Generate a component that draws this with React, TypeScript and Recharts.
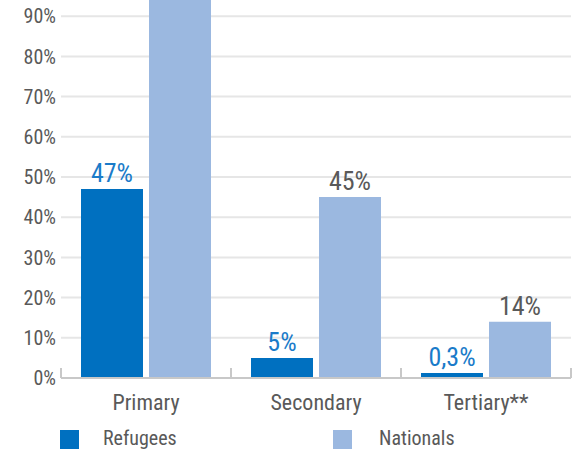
import { Bar, BarChart, CartesianGrid, LabelList, Legend, XAxis, YAxis } from "recharts";

const levels = ["Primary", "Secondary", "Tertiary**"];
const refugees = [47, 5, 0.3];
const nationals = [96, 45, 14];
const yTicks = [0, 10, 20, 30, 40, 50, 60, 70, 80, 90];

const data = levels.map((level, i) => ({ level, refugees: refugees[i], nationals: nationals[i] }));

const FONT = "'Roboto Condensed', 'Liberation Sans Narrow', Roboto, sans-serif";
const GREY = "#595959";
const AXIS = "#c8c8c8";

const pct = (v: number) => `${String(v).replace(".", ",")}%`;

function CategoryTick(props: any) {
  const { x, y, payload, index, visibleTicksCount } = props;
  const half = payload.offset ?? 85;
  const last = index === visibleTicksCount - 1;
  return (
    <g>
      <line x1={x - half} x2={x - half} y1={y - 10} y2={y} stroke={AXIS} strokeWidth={2} />
      {last && <line x1={x + half} x2={x + half} y1={y - 10} y2={y} stroke={AXIS} strokeWidth={2} />}
      <text x={x} y={y + 32} textAnchor="middle" fill={GREY} fontSize={22} fontFamily={FONT}>
        {payload.value}
      </text>
    </g>
  );
}

function LegendBox() {
  const items = [
    { label: "Refugees", color: "#0070c0", left: 60, textLeft: 103 },
    { label: "Nationals", color: "#9bb8e0", left: 333, textLeft: 379 },
  ];
  return (
    <div style={{ position: "relative", width: 587, height: 42 }}>
      {items.map((it) => (
        <div key={it.label}>
          <div style={{ position: "absolute", left: it.left, top: 12, width: 19, height: 19, background: it.color }} />
          <div
            style={{
              position: "absolute",
              left: it.textLeft,
              top: 8,
              fontSize: 20,
              lineHeight: "24px",
              color: GREY,
              fontFamily: FONT,
            }}
          >
            {it.label}
          </div>
        </div>
      ))}
    </div>
  );
}

export default function App() {
  return (
    <div style={{ position: "relative", width: 587, height: 451, overflow: "hidden" }}>
      <style>{`body{margin:0}`}</style>
      <div style={{ position: "absolute", top: -60, left: 0 }}>
        <BarChart
          width={587}
          height={520}
          data={data}
          margin={{ top: 36, right: 16, left: 0, bottom: 0 }}
          barSize={62}
          barGap={6}
        >
          <CartesianGrid vertical={false} stroke="#e6e6e6" strokeWidth={2} />
          <YAxis
            domain={[0, 100]}
            ticks={yTicks}
            tickFormatter={(v) => `${v}%`}
            axisLine={false}
            tickLine={false}
            tickSize={0}
            tickMargin={5}
            width={61}
            tick={{ fill: GREY, fontSize: 20, fontFamily: FONT }}
          />
          <XAxis
            dataKey="level"
            height={40}
            axisLine={{ stroke: AXIS, strokeWidth: 2 }}
            tickLine={false}
            tickSize={0}
            tickMargin={0}
            tick={<CategoryTick />}
          />
          <Legend
            verticalAlign="bottom"
            content={<LegendBox />}
            wrapperStyle={{ left: 0, width: 587, height: 42 }}
          />
          <Bar dataKey="refugees" name="Refugees" fill="#0070c0" minPointSize={5} isAnimationActive={false}>
            <LabelList
              dataKey="refugees"
              position="top"
              offset={7}
              formatter={(v: any) => pct(v)}
              fill="#1a7bc9"
              fontSize={26}
              fontFamily={FONT}
            />
          </Bar>
          <Bar dataKey="nationals" name="Nationals" fill="#9bb8e0" isAnimationActive={false}>
            <LabelList
              dataKey="nationals"
              position="top"
              offset={7}
              formatter={(v: any) => pct(v)}
              fill={GREY}
              fontSize={26}
              fontFamily={FONT}
            />
          </Bar>
        </BarChart>
      </div>
    </div>
  );
}
